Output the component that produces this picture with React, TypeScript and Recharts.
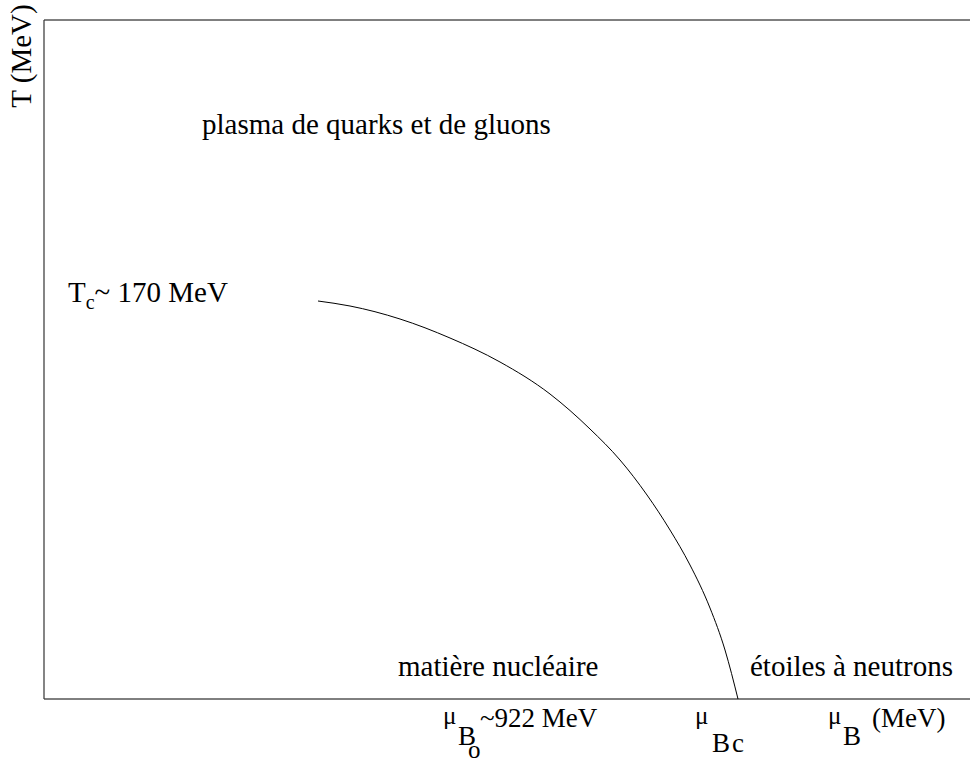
import React from "react";
import { LineChart, Line, XAxis, YAxis, ReferenceLine, ReferenceDot, Label } from "recharts";

// Phase diagram of nuclear matter: T versus baryon chemical potential (arbitrary plot units).
const muB = [274, 306, 356, 406, 456, 506, 546, 576, 603, 626, 646, 666, 681, 694];
const temp = [398, 393, 380, 361, 337, 305, 270, 239, 204, 169, 134, 91, 49, 0];
const X_MAX = 926;
const Y_MAX = 679;

const qgpText = "plasma de quarks et de gluons";
const nuclearText = "matière nucléaire";
const starsText = "étoiles à neutrons";
const tcText = "~ 170 MeV";
const mu0Text = "~922 MeV";
const unitText = "(MeV)";
const yTitle = "T (MeV)";

const data = muB.map((x, i) => ({ x, t: temp[i] }));

const FONT = "Liberation Serif, Tinos, Times New Roman, DejaVu Serif, serif";

type P = { cx?: number; cy?: number };

export default function App() {
  return (
    <div style={{ width: 970, height: 763 }}>
      <style>{"body{margin:0}"}</style>
      <LineChart width={970} height={763} data={data} margin={{ top: 20, right: 0, bottom: 0, left: 0 }}>
        <XAxis
          type="number"
          dataKey="x"
          domain={[0, X_MAX]}
          height={64}
          tick={false}
          tickLine={false}
          axisLine={{ stroke: "#000", strokeWidth: 1 }}
        />
        <YAxis
          type="number"
          domain={[0, Y_MAX]}
          width={44}
          tick={false}
          tickLine={false}
          axisLine={{ stroke: "#333", strokeWidth: 1.2 }}
        >
          <Label
            content={(props: any) => {
              const vb = props.viewBox || { x: 0, y: 20 };
              const x = 31;
              const y = vb.y + 36;
              return (
                <text x={x} y={y} transform={`rotate(-90 ${x} ${y})`} textAnchor="middle" fontFamily={FONT} fontSize={29} fill="#000">
                  {yTitle}
                </text>
              );
            }}
          />
        </YAxis>
        <ReferenceLine y={Y_MAX} stroke="#000" strokeWidth={1} />
        <Line type="monotone" dataKey="t" stroke="#000" strokeWidth={1} dot={false} isAnimationActive={false} />

        <ReferenceDot
          x={158}
          y={565}
          r={0}
          shape={(p: P) => (
            <text x={p.cx} y={p.cy} fontFamily={FONT} fontSize={29} fill="#000">{qgpText}</text>
          )}
        />
        <ReferenceDot
          x={24}
          y={397}
          r={0}
          shape={(p: P) => (
            <text x={p.cx} y={p.cy} fontFamily={FONT} fontSize={29} fill="#000">
              T<tspan fontSize={20} dy={7}>c</tspan>
              <tspan dy={-7}>{tcText}</tspan>
            </text>
          )}
        />
        <ReferenceDot
          x={354}
          y={23}
          r={0}
          shape={(p: P) => (
            <text x={p.cx} y={p.cy} fontFamily={FONT} fontSize={29} fill="#000">{nuclearText}</text>
          )}
        />
        <ReferenceDot
          x={706}
          y={23}
          r={0}
          shape={(p: P) => (
            <text x={p.cx} y={p.cy} fontFamily={FONT} fontSize={29} fill="#000">{starsText}</text>
          )}
        />
        {/* axis annotations below the bottom line */}
        <ReferenceDot
          x={399}
          y={0}
          r={0}
          shape={(p: P) => {
            const cx = p.cx ?? 0;
            const cy = p.cy ?? 0;
            return (
              <g fill="#000">
                <text x={cx} y={cy + 25} fontFamily={FONT} fontSize={25}>μ</text>
                <text x={cx + 15} y={cy + 46} fontFamily={FONT} fontSize={27}>B</text>
                <text x={cx + 25} y={cy + 59} fontFamily={FONT} fontSize={25}>o</text>
                <text x={cx + 37} y={cy + 28} fontFamily={FONT} fontSize={27}>{mu0Text}</text>
              </g>
            );
          }}
        />
        <ReferenceDot
          x={651}
          y={0}
          r={0}
          shape={(p: P) => {
            const cx = p.cx ?? 0;
            const cy = p.cy ?? 0;
            return (
              <g fill="#000">
                <text x={cx} y={cy + 25} fontFamily={FONT} fontSize={25}>μ</text>
                <text x={cx + 17} y={cy + 53} fontFamily={FONT} fontSize={27}>B</text>
                <text x={cx + 37} y={cy + 53} fontFamily={FONT} fontSize={27}>c</text>
              </g>
            );
          }}
        />
        <ReferenceDot
          x={784}
          y={0}
          r={0}
          shape={(p: P) => {
            const cx = p.cx ?? 0;
            const cy = p.cy ?? 0;
            return (
              <g fill="#000">
                <text x={cx} y={cy + 25} fontFamily={FONT} fontSize={25}>μ</text>
                <text x={cx + 15} y={cy + 46} fontFamily={FONT} fontSize={27}>B</text>
                <text x={cx + 44} y={cy + 28} fontFamily={FONT} fontSize={27}>{unitText}</text>
              </g>
            );
          }}
        />
      </LineChart>
    </div>
  );
}
